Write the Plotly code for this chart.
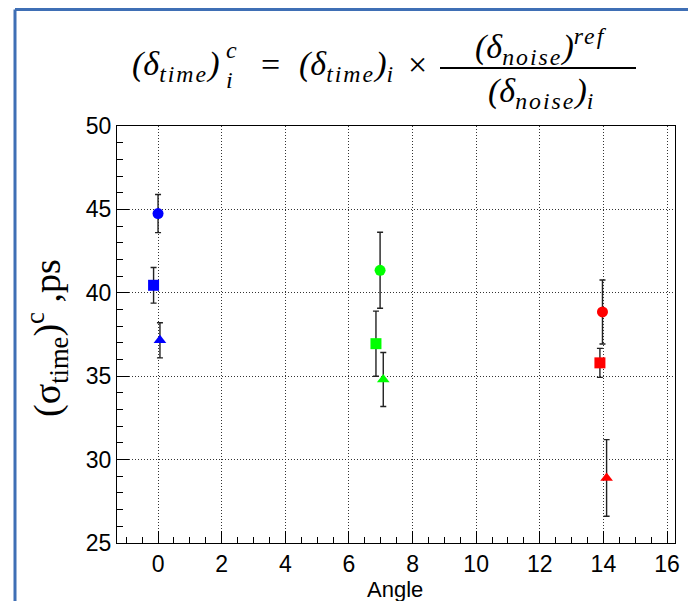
import plotly.graph_objects as go

# ---- data ----
angle_colors = ["#0000ff", "#00ff00", "#ff0000"]

circle_x = [0.0, 6.98, 13.97]
circle_y = [44.75, 41.35, 38.85]
circle_err = [1.14, 2.28, 1.92]

square_x = [-0.14, 6.85, 13.89]
square_y = [40.45, 36.95, 35.80]
square_err = [1.07, 1.95, 0.87]

triangle_x = [0.06, 7.08, 14.10]
triangle_y = [37.15, 34.80, 28.90]
triangle_err = [1.05, 1.62, 2.30]

x_ticks = [0, 2, 4, 6, 8, 10, 12, 14, 16]
y_ticks = [25, 30, 35, 40, 45, 50]

# page body adds an 8px offset; layout in figure pixels
OFF = 8
W, H = 696, 601
L, R, T, B = 117 - OFF, 675 - OFF, 126 - OFF, 543 - OFF


def px(xs):
    return (xs - OFF - L) / (R - L)


def py(ys):
    return (B - (ys - OFF)) / (B - T)


fig = go.Figure()

series = [
    (circle_x, circle_y, circle_err, "circle"),
    (square_x, square_y, square_err, "square"),
    (triangle_x, triangle_y, triangle_err, "triangle-up"),
]
for xs, ys, es, sym in series:
    fig.add_trace(go.Scatter(
        x=xs, y=ys, mode="markers",
        marker=dict(symbol=sym, size=11, color=angle_colors, line=dict(width=0)),
        error_y=dict(type="data", array=es, visible=True, color="#222222", thickness=1.4, width=3),
        showlegend=False, hoverinfo="x+y",
    ))

axis_common = dict(
    showline=True, linecolor="black", linewidth=1.2, mirror=True,
    ticks="inside", ticklen=12, tickcolor="black", tickwidth=1,
    showgrid=True, gridcolor="#333333", griddash="1px,2px", gridwidth=1,
    zeroline=False,
    tickfont=dict(family="Liberation Sans, Arial", size=23, color="black"),
)

fig.update_xaxes(
    range=[-1.29, 16.25], tickvals=x_ticks,
    minor=dict(dtick=0.5, tick0=0, ticks="inside", ticklen=6, tickcolor="black", showgrid=False),
    **axis_common,
)
fig.update_yaxes(
    range=[25, 50], tickvals=y_ticks,
    minor=dict(dtick=1, tick0=25, ticks="inside", ticklen=6, tickcolor="black", showgrid=False),
    **axis_common,
)

serif = dict(family="Liberation Serif", size=34, color="black")
small = dict(family="Liberation Serif", size=24, color="black")
times = dict(family="Liberation Serif, Times New Roman", size=38, color="black")
sans = dict(family="Liberation Sans, Arial", size=22, color="black")

SP = "<span style='letter-spacing:2px'>"
annos = [
    # left-hand side
    dict(text="<i>(δ<sub>" + SP + "time</span></sub>)</i>", x=px(221), y=py(66), xanchor="right", yanchor="middle", font=serif),
    dict(text="<i>c</i>", x=px(224), y=py(50), xanchor="left", yanchor="middle", font=small),
    dict(text="<i>i</i>", x=px(224), y=py(80), xanchor="left", yanchor="middle", font=small),
    dict(text="=", x=px(270), y=py(64), xanchor="center", yanchor="middle", font=serif),
    dict(text="<i>(δ<sub>" + SP + "time</span></sub>)<sub>i</sub></i>", x=px(297), y=py(66), xanchor="left", yanchor="middle", font=serif),
    dict(text="×", x=px(417), y=py(64), xanchor="center", yanchor="middle", font=serif),
    # numerator
    dict(text="<i>(δ<sub>" + SP + "noise</span></sub>)<sup>" + SP + "ref</span></sup></i>", x=px(541), y=py(46), xanchor="center", yanchor="middle", font=serif),
    # denominator
    dict(text="<i>(δ<sub>" + SP + "noise</span></sub>)<sub>i</sub></i>", x=px(540), y=py(93), xanchor="center", yanchor="middle", font=serif),
    # y axis title
    dict(text="(σ<sub>time</sub>)<sup>c</sup> ,ps", x=px(47), y=py(338), xanchor="center", yanchor="middle",
         textangle=-90, font=times),
    # x axis title
    dict(text="Angle", x=px(395), y=py(589), xanchor="center", yanchor="middle", font=sans),
]
for a in annos:
    fig.add_annotation(xref="paper", yref="paper", showarrow=False, **a)

shapes = [
    # fraction bar
    dict(type="line", xref="paper", yref="paper", x0=px(440), x1=px(636), y0=py(68), y1=py(68),
         line=dict(color="black", width=2)),
    # blue frame
    dict(type="line", xref="paper", yref="paper", x0=px(15), x1=px(710), y0=py(9.5), y1=py(9.5),
         line=dict(color="#3f6fb5", width=3)),
    dict(type="line", xref="paper", yref="paper", x0=px(15), x1=px(15), y0=py(9.5), y1=py(620),
         line=dict(color="#3f6fb5", width=3)),
]
fig.update_layout(shapes=shapes)

fig.update_layout(
    width=W, height=H,
    margin=dict(l=L, r=W - R, t=T, b=H - B, autoexpand=False),
    paper_bgcolor="white", plot_bgcolor="white",
    showlegend=False,
)

fig.write_html("out.html")
